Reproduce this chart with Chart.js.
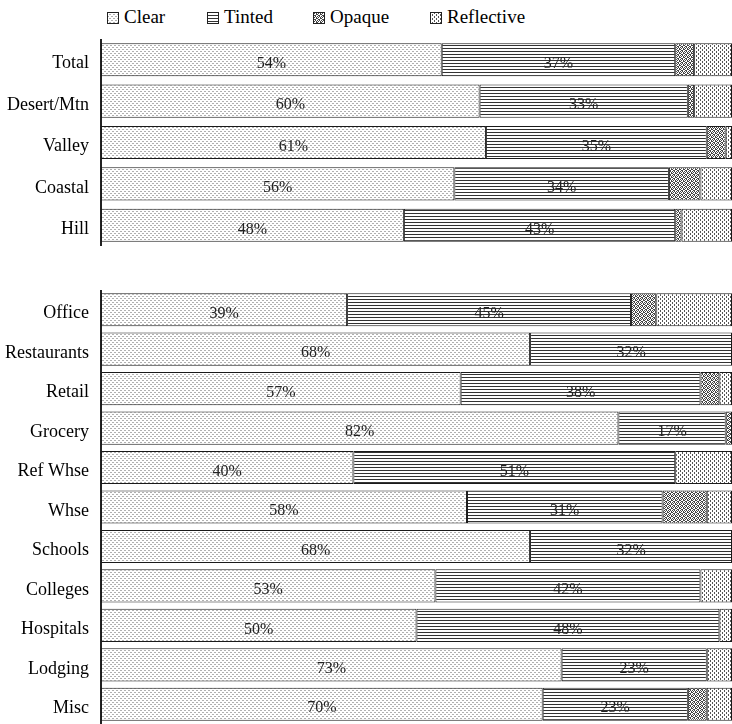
<!DOCTYPE html>
<html>
<head>
<meta charset="utf-8">
<script src="https://cdn.jsdelivr.net/npm/chart.js@4.4.1/dist/chart.umd.min.js"></script>
<style>
  body { margin: 0; background: #fff; }
  #wrap { position: relative; width: 732px; height: 724px; overflow: hidden; }
  #wrap canvas.chart { position: absolute; left: 0; }
  .key { position: absolute; top: 6px; font: 19px "Liberation Serif", serif; color: #000; white-space: nowrap; }
  .key canvas { vertical-align: -1px; margin-right: 5px; }
</style>
</head>
<body>
<div id="wrap">
  <div class="key" style="left:107px"><canvas width="12" height="12" data-s="0"></canvas>Clear</div>
  <div class="key" style="left:207px"><canvas width="12" height="12" data-s="1"></canvas>Tinted</div>
  <div class="key" style="left:313px"><canvas width="12" height="12" data-s="2"></canvas>Opaque</div>
  <div class="key" style="left:430px"><canvas width="12" height="12" data-s="3"></canvas>Reflective</div>
  <canvas class="chart" id="regionChart" width="732" height="207" style="top:39px"></canvas>
  <canvas class="chart" id="buildingChart" width="732" height="434" style="top:290px"></canvas>
</div>
<script>
// glazing shares by climate region (%)
var regions = ['Total', 'Desert/Mtn', 'Valley', 'Coastal', 'Hill'];
var regionClear = [54, 60, 61, 56, 48];
var regionTinted = [37, 33, 35, 34, 43];
var regionOpaque = [3, 1, 3, 5, 1];
var regionReflective = [6, 6, 1, 5, 8];

// glazing shares by building type (%)
var buildings = ['Office', 'Restaurants', 'Retail', 'Grocery', 'Ref Whse', 'Whse',
                 'Schools', 'Colleges', 'Hospitals', 'Lodging', 'Misc'];
var bldClear = [39, 68, 57, 82, 40, 58, 68, 53, 50, 73, 70];
var bldTinted = [45, 32, 38, 17, 51, 31, 32, 42, 48, 23, 23];
var bldOpaque = [4, 0, 3, 1, 0, 7, 0, 0, 0, 0, 3];
var bldReflective = [12, 0, 2, 0, 9, 4, 0, 5, 2, 4, 4];

var seriesNames = ['Clear', 'Tinted', 'Opaque', 'Reflective'];

// small bitmap tiles used as fill patterns
function tile(w, h, color, pts) {
    var c = document.createElement('canvas');
    c.width = w; c.height = h;
    var g = c.getContext('2d');
    g.fillStyle = '#fff';
    g.fillRect(0, 0, w, h);
    g.fillStyle = color;
    pts.forEach(function(p) { g.fillRect(p[0], p[1], 1, 1); });
    return c;
}

var tiles = [
    tile(4, 4, '#b0b0b0', [[0, 0], [1, 0], [2, 2], [3, 2]]),
    tile(4, 3, '#333', [[0, 0], [1, 0], [2, 0], [3, 0]]),
    tile(4, 4, '#444', [[0, 0], [2, 0], [1, 1], [3, 1], [0, 2], [3, 2], [1, 3], [2, 3]]),
    tile(4, 4, '#555', [[0, 0], [0, 1], [2, 2], [2, 3]])
];

function patterns(ctx) {
    return tiles.map(function(t) { return ctx.createPattern(t, 'repeat'); });
}

// legend swatches
document.querySelectorAll('.key canvas').forEach(function(c) {
    var g = c.getContext('2d');
    g.fillStyle = g.createPattern(tiles[+c.dataset.s], 'repeat');
    g.fillRect(0, 0, 12, 12);
    g.strokeStyle = '#222';
    g.strokeRect(0.5, 0.5, 11, 11);
});

// percentage text inside the Clear and Tinted segments
var valueLabels = {
    id: 'valueLabels',
    afterDatasetsDraw: function(chart) {
        var ctx = chart.ctx;
        ctx.save();
        ctx.font = '16px "Liberation Serif", serif';
        ctx.fillStyle = '#222';
        ctx.textAlign = 'center';
        ctx.textBaseline = 'middle';
        [0, 1].forEach(function(di) {
            chart.getDatasetMeta(di).data.forEach(function(bar, i) {
                var v = chart.data.datasets[di].data[i];
                if (!v) return;
                var p = bar.getProps(['x', 'y', 'base'], true);
                ctx.fillText(v + '%', (p.x + p.base) / 2, p.y + 4);
            });
        });
        ctx.restore();
    }
};

function makeChart(id, labels, values, catPct) {
    var ctx = document.getElementById(id).getContext('2d');
    var fills = patterns(ctx);
    return new Chart(ctx, {
        type: 'bar',
        data: {
            labels: labels,
            datasets: values.map(function(d, i) {
                return {
                    label: seriesNames[i],
                    data: d,
                    backgroundColor: fills[i],
                    borderColor: '#1a1a1a',
                    borderWidth: 1,
                    borderSkipped: false,
                    categoryPercentage: catPct,
                    barPercentage: 1
                };
            })
        },
        options: {
            indexAxis: 'y',
            responsive: false,
            animation: false,
            layout: { padding: 0 },
            plugins: { legend: { display: false }, tooltip: { enabled: false } },
            scales: {
                x: { stacked: true, min: 0, max: 100, display: false },
                y: {
                    stacked: true,
                    grid: { display: false, drawTicks: false },
                    border: { display: true, color: '#222', width: 2 },
                    ticks: {
                        color: '#000',
                        padding: 12,
                        labelOffset: 4,
                        font: { family: '"Liberation Serif", serif', size: 18 }
                    },
                    afterFit: function(scale) {
                        // fixed label column, and no extra room above/below the bars
                        scale.width = 101;
                        scale.paddingTop = 0;
                        scale.paddingBottom = 0;
                    }
                }
            }
        },
        plugins: [valueLabels]
    });
}

makeChart('regionChart', regions,
    [regionClear, regionTinted, regionOpaque, regionReflective], 0.8);
makeChart('buildingChart', buildings,
    [bldClear, bldTinted, bldOpaque, bldReflective], 0.84);
</script>
</body>
</html>
